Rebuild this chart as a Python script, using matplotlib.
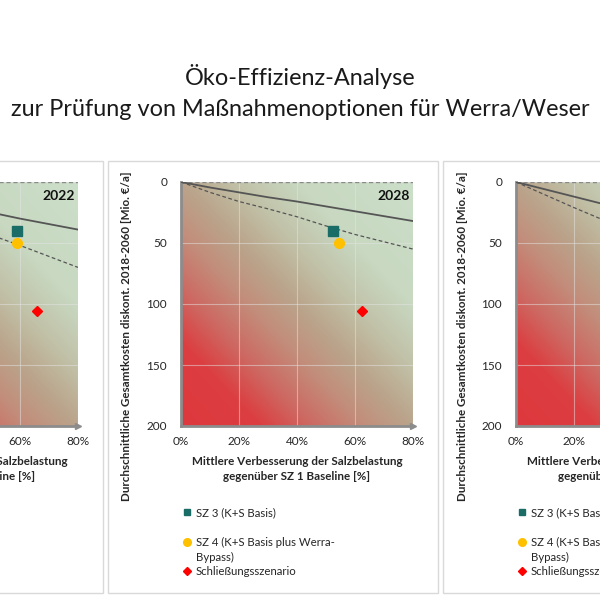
from __future__ import annotations

import matplotlib

matplotlib.use("Agg")

import matplotlib.pyplot as plt
import numpy as np
from matplotlib.colors import LinearSegmentedColormap
from matplotlib.lines import Line2D
from matplotlib.patches import Rectangle
from matplotlib.ticker import FuncFormatter

plt.rcParams["font.family"] = ["Lato", "DejaVu Sans"]

TITLE = "Öko-Effizienz-Analyse\nzur Prüfung von Maßnahmenoptionen für Werra/Weser"
Y_LABEL = "Durchschnittliche Gesamtkosten diskont. 2018-2060 [Mio. €/a]"
X_LABEL = "Mittlere Verbesserung der Salzbelastung\ngegenüber SZ 1 Baseline [%]"
LEGEND_LABELS = ["SZ 3 (K+S Basis)", "SZ 4 (K+S Basis plus Werra-\nBypass)", "Schließungsszenario"]

YEARS = ["2022", "2028", ""]
X_TICKS = [0, 20, 40, 60, 80]
Y_TICKS = [0, 50, 100, 150, 200]

# efficiency lines per panel: x in %, y in Mio. EUR/a
LINE_X = [
    [0, 20, 40, 60, 80],
    [0, 10, 20, 30, 40, 50, 60, 70, 80],
    [0, 10, 20, 30],
]
SOLID_Y = [
    [0, 10, 20, 30, 39],
    [0, 4.5, 8.5, 12.5, 16, 20, 24, 28, 32],
    [0, 6, 12, 18],
]
DASHED_Y = [
    [0, 17, 35, 52, 70],
    [0, 8.5, 16, 22, 28.5, 36, 43, 49, 55],
    [0, 10.5, 21, 31],
]

# scenario points (only the first two panels are in view)
SZ3_X = [59, 52.5]
SZ3_Y = [40, 40]
SZ4_X = [59, 54.5]
SZ4_Y = [50, 50]
CLOSE_X = [66, 62.3]
CLOSE_Y = [106, 106]

SZ3_COLOR = "#1A6C67"
SZ4_COLOR = "#FFC000"
CLOSE_COLOR = "#FF0000"
AXIS_GRAY = "#8C8C8C"
LINE_GRAY = "#555555"

# diagonal background: red bottom-left -> tan -> green top-right
bg_cmap = LinearSegmentedColormap.from_list(
    "eco",
    [
        (0.0, "#DE383D"),
        (0.17, "#DC3E41"),
        (0.28, "#CD6962"),
        (0.4, "#C28F7C"),
        (0.5, "#BAA48B"),
        (0.62, "#C1C2A8"),
        (0.75, "#C8D8C1"),
        (1.0, "#CCDFC9"),
    ],
)

W = 600.0
SHIFT = 335  # px between panels


def fx(px):
    return px / W


def fy(py):
    return 1 - py / W


def main() -> None:
    fig = plt.figure(figsize=(6, 6), dpi=100)
    fig.patch.set_facecolor("white")

    fig.text(0.5, fy(92), TITLE, ha="center", va="center", fontsize=16.9,
             linespacing=1.62, color="#1A1A1A")

    for k, off in enumerate([-SHIFT, 0, SHIFT]):
        # panel frame
        fig.add_artist(Rectangle((fx(108 + off), fy(593)), fx(330), 432 / W,
                                 transform=fig.transFigure, fill=False,
                                 ec="#D9D9D9", lw=1.0))

        ax = fig.add_axes([fx(181 + off), fy(426), 232 / W, 244 / W])
        ax.set_xlim(0, 80)
        ax.set_ylim(200, 0)

        u = np.linspace(0, 1, 240)
        v = np.linspace(1, 0, 240)
        uu, vv = np.meshgrid(u, v)
        t = (uu + vv) / 2
        ax.imshow(t, extent=(0, 80, 200, 0), cmap=bg_cmap, vmin=0, vmax=1,
                  aspect="auto", interpolation="bilinear", zorder=0)

        ax.set_axisbelow(True)
        ax.grid(True, color="#E4E4E4", alpha=0.5, lw=0.8)
        ax.set_xticks(X_TICKS)
        ax.set_yticks(Y_TICKS)
        ax.xaxis.set_major_formatter(FuncFormatter(lambda val, pos: f"{val:.0f}%"))
        ax.tick_params(length=0, labelsize=8.5, labelcolor="#262626")
        ax.tick_params(axis="y", pad=10)
        ax.tick_params(axis="x", pad=7)
        for side in ["top", "right"]:
            ax.spines[side].set_visible(False)
        for side in ["left", "bottom"]:
            ax.spines[side].set_color(AXIS_GRAY)
            ax.spines[side].set_linewidth(2)
        ax.plot(1, 0, ">", transform=ax.transAxes, clip_on=False, color=AXIS_GRAY, ms=4)

        ax.axhline(0, color="#8A8A8A", ls=(0, (3, 2)), lw=1.0, zorder=2)
        ax.plot(LINE_X[k], SOLID_Y[k], color=LINE_GRAY, lw=1.3, zorder=3)
        ax.plot(LINE_X[k], DASHED_Y[k], color=LINE_GRAY, lw=0.9, ls=(0, (3, 2)), zorder=3)

        if k < len(SZ3_X):
            ax.plot(SZ3_X[k], SZ3_Y[k], "s", color=SZ3_COLOR, ms=7, zorder=4)
            ax.plot(SZ4_X[k], SZ4_Y[k], "o", color=SZ4_COLOR, ms=7, zorder=4)
            ax.plot(CLOSE_X[k], CLOSE_Y[k], "D", color=CLOSE_COLOR, ms=5, zorder=4)

        if YEARS[k]:
            ax.text(0.987, 0.943, YEARS[k], transform=ax.transAxes, ha="right",
                    va="center", fontsize=10, fontweight="bold", color="#111111")

        fig.text(fx(127 + off), fy(336), Y_LABEL, rotation=90, ha="center", va="center",
                 fontsize=8.4, fontweight="bold", color="#262626")
        fig.text(fx(297 + off), fy(456), X_LABEL, ha="center", va="top", fontsize=8.4,
                 fontweight="bold", linespacing=1.4, color="#262626")

        # legend, laid out like the Excel one (marker beside the first line)
        markers = [("s", SZ3_COLOR, 5), ("o", SZ4_COLOR, 5.5), ("D", CLOSE_COLOR, 4)]
        rows = [512, 542, 571]
        for (mk, col, ms), row, label in zip(markers, rows, LEGEND_LABELS):
            fig.add_artist(Line2D([fx(187 + off)], [fy(row)], marker=mk, color=col,
                                  ms=ms, ls="none", transform=fig.transFigure))
            for i, line in enumerate(label.split("\n")):
                fig.text(fx(196 + off), fy(row + 4 + 15 * i), line, ha="left",
                         va="baseline", fontsize=8.2, color="#262626")

    fig.savefig("out.png", dpi=100, facecolor="white")
    plt.close(fig)


if __name__ == "__main__":
    main()
